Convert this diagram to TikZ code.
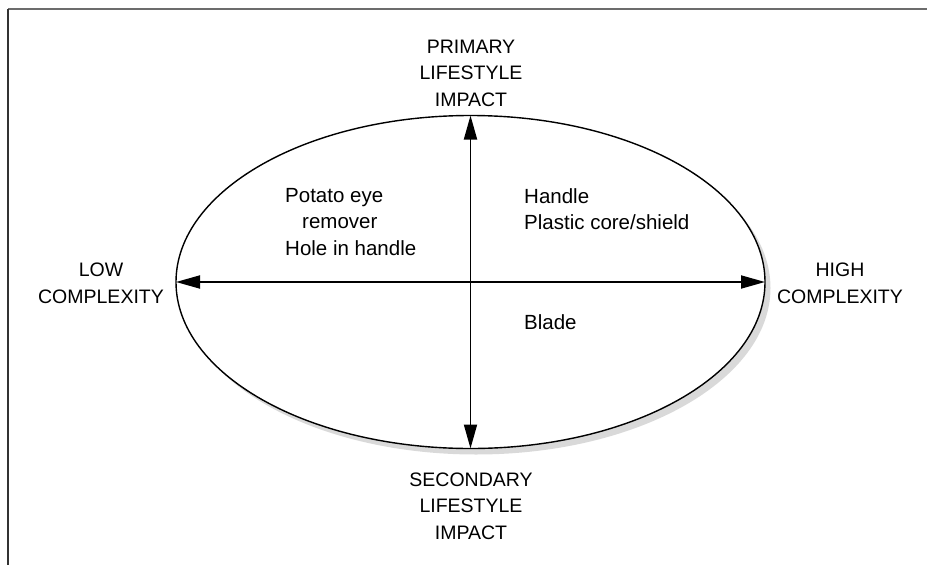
\documentclass[tikz,border=0pt]{standalone}
\usepackage{fontspec}
\setmainfont{Liberation Sans}
\usetikzlibrary{arrows.meta}
\begin{document}
\begin{tikzpicture}[x=1pt,y=-1pt,
  caps/.style={font=\fontsize{19.5}{26.5}\selectfont, align=center, inner sep=0pt},
  item/.style={font=\fontsize{20.5}{26.5}\selectfont, align=left, inner sep=0pt, anchor=west},
  axis/.style={line width=1.8pt, {Triangle[length=24pt,width=13pt]}-{Triangle[length=24pt,width=13pt]}},
]
\useasboundingbox (0,0) rectangle (927,565);
% frame
\draw[line width=2.2pt, gray!85!black] (8,9) -- (927,9);
\draw[line width=2.4pt, black!80] (8,9) -- (8,565);
% ellipse with soft shadow
\fill[gray!30] (476,288) ellipse [x radius=294.5, y radius=166.5];
\draw[line width=1.4pt, fill=white] (470.5,282) ellipse [x radius=294.5, y radius=166.5];
\coordinate (top) at (470.5,115.5);
\coordinate (bot) at (470.5,448.5);
\coordinate (lft) at (176,282);
\coordinate (rgt) at (765,282);
\draw[axis] (bot) -- (top);
\draw[axis] (lft) -- (rgt);
% axis labels
\node[caps] (primary) at (471,73) {PRIMARY\\LIFESTYLE\\IMPACT};
\node[caps] (secondary) at (471,506) {SECONDARY\\LIFESTYLE\\IMPACT};
\node[caps] (low) at (101,283.5) {LOW\\COMPLEXITY};
\node[caps] (high) at (840,283.5) {HIGH\\COMPLEXITY};
% quadrant items
\node[item] (potato) at (285,222) {Potato eye\\\hspace*{17pt}remover\\Hole in handle};
\node[item] (handle) at (524,209) {Handle\\Plastic core/shield};
\node[item, anchor=base west] (blade) at (524,329) {Blade};
\end{tikzpicture}
\end{document}
